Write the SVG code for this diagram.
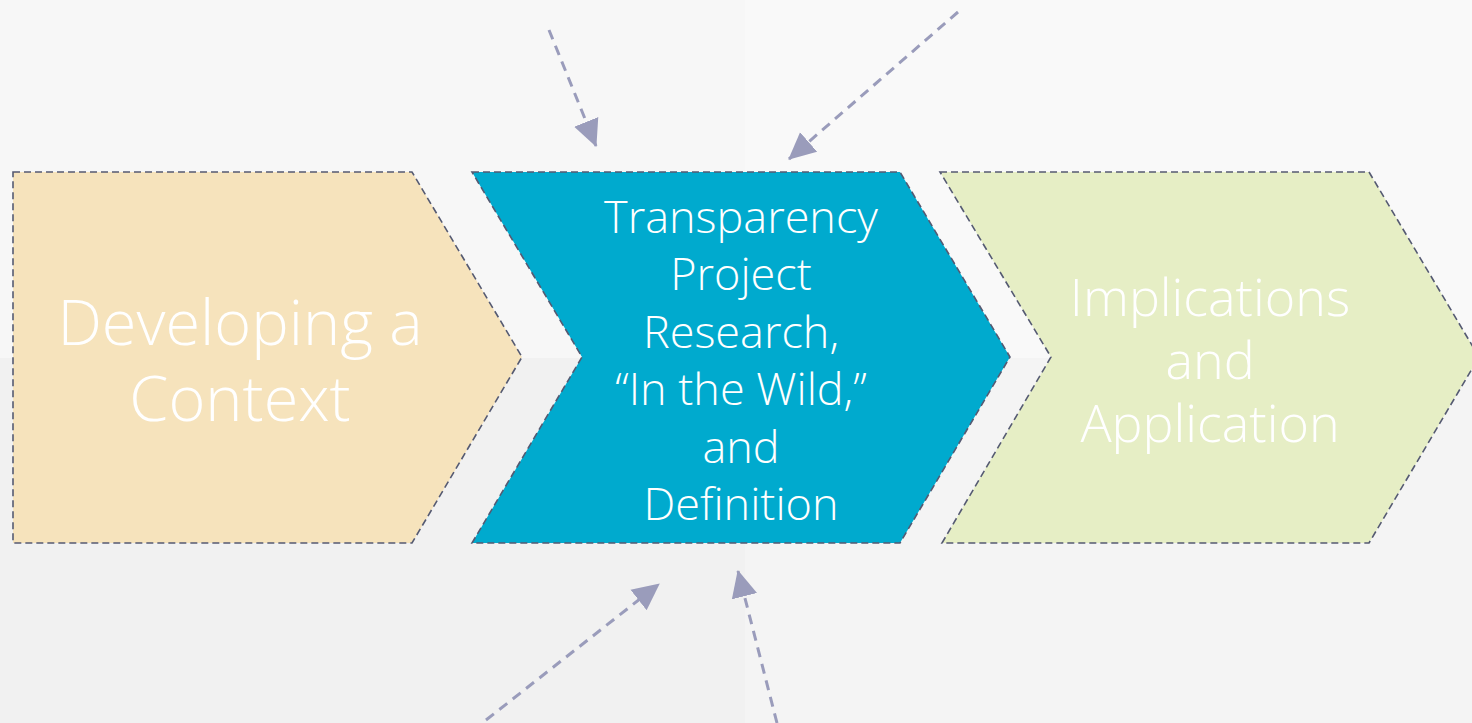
<svg xmlns="http://www.w3.org/2000/svg" width="1472" height="723" viewBox="0 0 1472 723">
  <style>
    .stage { stroke: #555a72; stroke-width: 1.6; stroke-dasharray: 7 4; }
    .label { font-family: "Open Sans", "Segoe UI", "Liberation Sans", sans-serif; font-weight: 300; fill: #ffffff; text-anchor: middle; }
    .flow { fill: none; stroke: #9a9cbb; stroke-width: 3; stroke-dasharray: 10 7; }
  </style>
  <defs>
    <marker id="head" markerUnits="userSpaceOnUse" markerWidth="28" markerHeight="28" viewBox="0 0 28 28" refX="26" refY="14" orient="auto">
      <path d="M0,1 L27,14 L0,27 Z" fill="#9a9cbb"/>
    </marker>
  </defs>

  <!-- folded paper backdrop -->
  <rect x="0" y="0" width="1472" height="723" fill="#f4f4f4"/>
  <rect x="0" y="0" width="745" height="358" fill="#f7f7f7"/>
  <rect x="745" y="0" width="727" height="358" fill="#f9f9f9"/>
  <rect x="0" y="358" width="745" height="365" fill="#f1f1f1"/>
  <rect x="745" y="358" width="727" height="365" fill="#f4f4f4"/>

  <g id="stage-context">
    <polygon class="stage" points="13,172 412,172 522,357 412,543 13,543" fill="#f6e3bc"/>
    <text class="label" font-size="63"><tspan x="240" y="345">Developing a</tspan><tspan x="240" y="421">Context</tspan></text>
  </g>

  <g id="stage-research">
    <polygon class="stage" points="472,172 900,172 1010,357 900,543 472,543 582,357" fill="#00aace"/>
    <text class="label" font-size="45"><tspan x="741" y="233">Transparency</tspan><tspan x="741" y="290">Project</tspan><tspan x="741" y="348">Research,</tspan><tspan x="741" y="405">“In the Wild,”</tspan><tspan x="741" y="463">and</tspan><tspan x="741" y="520">Definition</tspan></text>
  </g>

  <g id="stage-implications">
    <polygon class="stage" points="940,172 1369,172 1479,357 1369,543 942,543 1051,357" fill="#e6eec5"/>
    <text class="label" font-size="52"><tspan x="1210" y="316">Implications</tspan><tspan x="1210" y="379">and</tspan><tspan x="1210" y="442">Application</tspan></text>
  </g>

  <g id="connectors">
    <line class="flow" x1="549" y1="30" x2="596" y2="146" marker-end="url(#head)"/>
    <line class="flow" x1="958" y1="12" x2="789" y2="159" marker-end="url(#head)"/>
    <line class="flow" x1="486" y1="720" x2="659" y2="584" marker-end="url(#head)"/>
    <line class="flow" x1="777" y1="723" x2="738" y2="571" marker-end="url(#head)"/>
  </g>
</svg>
